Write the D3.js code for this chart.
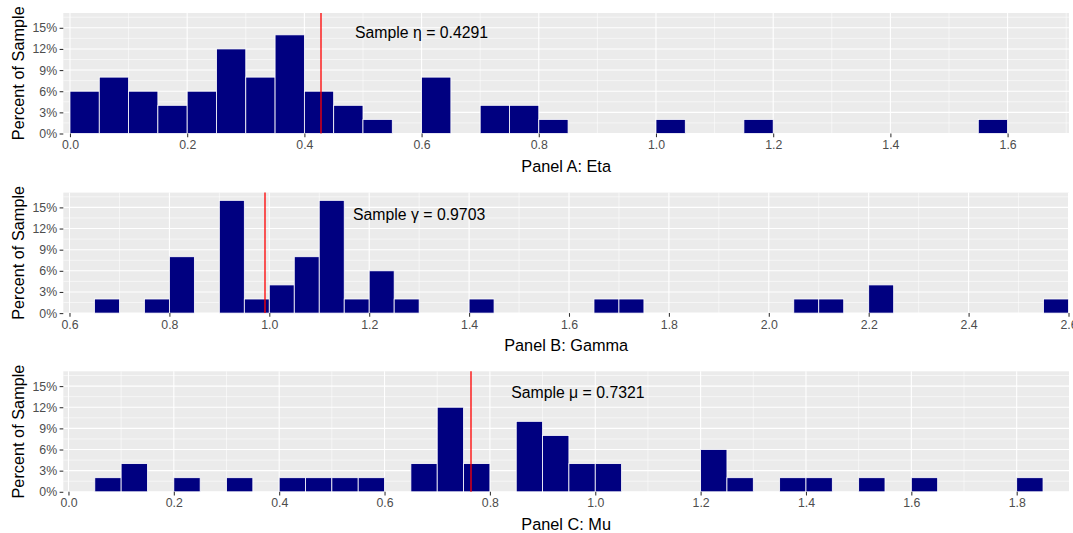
<!DOCTYPE html>
<html><head><meta charset="utf-8">
<script src="https://cdn.jsdelivr.net/npm/d3@7"></script>
<style>
body{margin:0;background:#fff;}
text{font-family:"Liberation Sans",Arial,sans-serif;}
</style></head>
<body>
<svg id="chart" width="1073" height="533"></svg>
<script>
// ---- data ----
const binWidth = 0.05;
const etaBins = [0.00,0.05,0.10,0.15,0.20,0.25,0.30,0.35,0.40,0.45,0.50,0.60,0.70,0.75,0.80,1.00,1.15,1.55];
const etaPct  = [6,8,6,4,6,12,8,14,6,4,2,8,4,4,2,2,2,2];
const gammaBins = [0.65,0.75,0.80,0.90,0.95,1.00,1.05,1.10,1.15,1.20,1.25,1.40,1.65,1.70,2.05,2.10,2.20,2.55];
const gammaPct  = [2,2,8,16,2,4,8,16,2,6,2,2,2,2,2,2,4,2];
const muBins = [0.05,0.10,0.20,0.30,0.40,0.45,0.50,0.55,0.65,0.70,0.75,0.85,0.90,0.95,1.00,1.20,1.25,1.35,1.40,1.50,1.60,1.80];
const muPct  = [2,4,2,2,2,2,2,2,4,12,4,10,8,4,4,6,2,2,2,2,2,2];
const etaTicks = [0.0,0.2,0.4,0.6,0.8,1.0,1.2,1.4,1.6];
const gammaTicks = [0.6,0.8,1.0,1.2,1.4,1.6,1.8,2.0,2.2,2.4,2.6];
const muTicks = [0.0,0.2,0.4,0.6,0.8,1.0,1.2,1.4,1.6,1.8];
const yTicks = [0,3,6,9,12,15];
const sampleValues = [0.4289, 0.991, 0.765];
const sampleLabels = ["Sample \u03B7 = 0.4291","Sample \u03B3 = 0.9703","Sample \u03BC = 0.7321"];
const labelPos = [[0.60,14.3],[1.30,14.05],[0.967,14.05]];
const axisTitles = ["Panel A: Eta","Panel B: Gamma","Panel C: Mu"];
const xDomains = [[-0.0114,1.7048],[0.5876,2.601],[-0.0098,1.8993]];

// ---- layout ----
const svg = d3.select("#chart");
const left = 63.3, right = 1069, ph = 120.5;
const tops = [13.0, 192.6, 371.3];

const panels = [
  {bins:etaBins, pct:etaPct, ticks:etaTicks},
  {bins:gammaBins, pct:gammaPct, ticks:gammaTicks},
  {bins:muBins, pct:muPct, ticks:muTicks}
];

panels.forEach((p,i)=>{
  const top = tops[i], bottom = top+ph;
  const x = d3.scaleLinear().domain(xDomains[i]).range([left,right]);
  const y = d3.scaleLinear().domain([0,17.1]).range([bottom,top]);
  const g = svg.append("g");
  g.append("rect").attr("x",left).attr("y",top).attr("width",right-left).attr("height",ph).attr("fill","#EBEBEB");
  // minor grid
  const minorX = [];
  for(let k=-5;k<40;k++){const v=+(p.ticks[0]+(k+0.5)*0.2).toFixed(3); if(v>xDomains[i][0]&&v<xDomains[i][1]) minorX.push(v);}
  g.selectAll(".mx").data(minorX).enter().append("line")
    .attr("x1",d=>x(d)).attr("x2",d=>x(d)).attr("y1",top).attr("y2",bottom)
    .attr("stroke","#fff").attr("stroke-width",0.55);
  const minorY = [1.5,4.5,7.5,10.5,13.5,16.5];
  g.selectAll(".my").data(minorY).enter().append("line")
    .attr("x1",left).attr("x2",right).attr("y1",d=>y(d)).attr("y2",d=>y(d))
    .attr("stroke","#fff").attr("stroke-width",0.55);
  // major grid
  g.selectAll(".gx").data(p.ticks).enter().append("line")
    .attr("x1",d=>x(d)).attr("x2",d=>x(d)).attr("y1",top).attr("y2",bottom)
    .attr("stroke","#fff").attr("stroke-width",1.07);
  g.selectAll(".gy").data(yTicks).enter().append("line")
    .attr("x1",left).attr("x2",right).attr("y1",d=>y(d)).attr("y2",d=>y(d))
    .attr("stroke","#fff").attr("stroke-width",1.07);
  // bars
  const data = p.bins.map((b,j)=>({b, v:p.pct[j]}));
  g.selectAll(".bar").data(data).enter().append("rect")
    .attr("x",d=>x(d.b)).attr("width",d=>x(d.b+binWidth)-x(d.b))
    .attr("y",d=>y(d.v)).attr("height",d=>y(0)-y(d.v))
    .attr("fill","#000080").attr("stroke","#ffffff").attr("stroke-width",0.8);
  // vline
  const vx = Math.round(x(sampleValues[i]));
  g.append("line").attr("x1",vx).attr("x2",vx)
    .attr("y1",top).attr("y2",bottom).attr("stroke","#FF0000").attr("stroke-width",1.3);
  // annotation
  g.append("text").attr("x",x(labelPos[i][0])).attr("y",y(labelPos[i][1]))
    .attr("text-anchor","middle").attr("dominant-baseline","central")
    .attr("font-size","15.8px").attr("fill","#000").text(sampleLabels[i]);
  // x axis
  const xa = g.append("g").attr("transform",`translate(0,${bottom})`)
    .call(d3.axisBottom(x).tickValues(p.ticks).tickFormat(d3.format(".1f")).tickSize(3.7).tickPadding(3));
  xa.select(".domain").remove();
  xa.selectAll("line").attr("stroke","#333").attr("stroke-width",1.07);
  xa.selectAll("text").attr("fill","#4D4D4D").attr("font-size","12.3px")
    .attr("font-family","'Liberation Sans',Arial,sans-serif");
  // y axis
  const ya = g.append("g").attr("transform",`translate(${left},0)`)
    .call(d3.axisLeft(y).tickValues(yTicks).tickFormat(d=>d+"%").tickSize(3.7).tickPadding(2.5));
  ya.select(".domain").remove();
  ya.selectAll("line").attr("stroke","#333").attr("stroke-width",1.07);
  ya.selectAll("text").attr("fill","#4D4D4D").attr("font-size","12.3px")
    .attr("font-family","'Liberation Sans',Arial,sans-serif");
  // titles
  g.append("text").attr("x",(left+right)/2).attr("y",bottom+38.3)
    .attr("text-anchor","middle").attr("font-size","16.3px").attr("fill","#000").text(axisTitles[i]);
  g.append("text").attr("transform",`translate(24,${(top+bottom)/2}) rotate(-90)`)
    .attr("text-anchor","middle").attr("font-size","16.3px").attr("fill","#000").text("Percent of Sample");
});
</script>
</body></html>
